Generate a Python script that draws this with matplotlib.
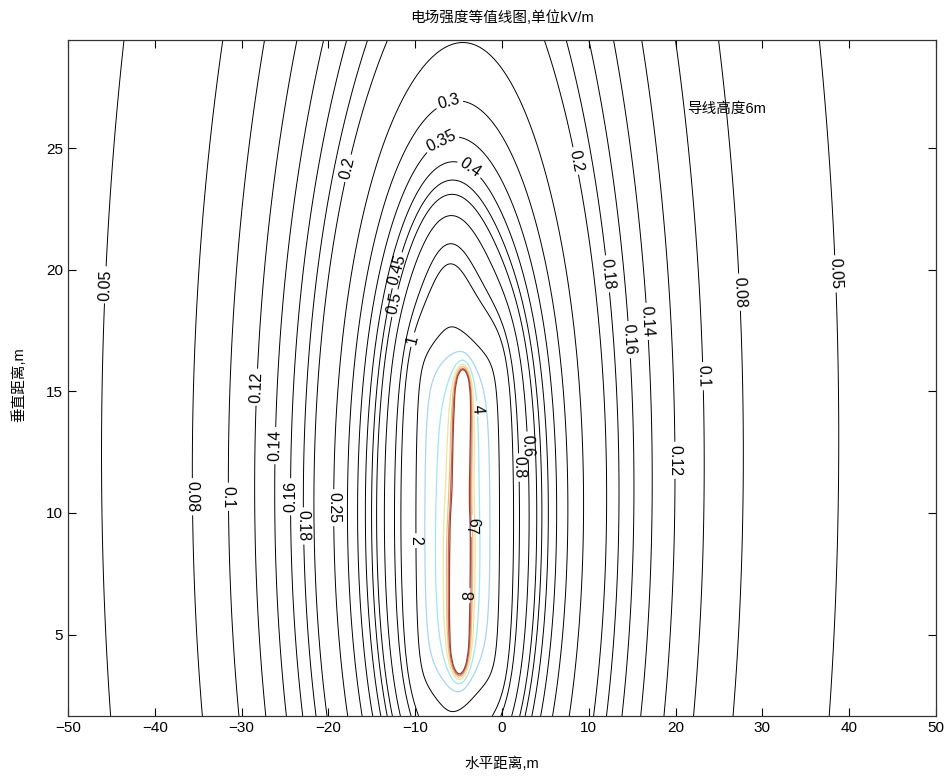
import numpy as np
import matplotlib.pyplot as plt

plt.rcParams['font.family'] = ['Liberation Sans', 'Noto Sans CJK SC']

# contour levels, kV/m
black_levels = [0.05, 0.08, 0.1, 0.12, 0.14, 0.16, 0.18, 0.2, 0.25, 0.3,
                0.35, 0.4, 0.45, 0.5, 0.6, 0.8, 1, 2]
color_levels = [3, 4, 5, 6, 7, 8]
color_lines = ['#a9d4f2', '#9fe6ee', '#eee49a', '#efbd86', '#c8705a', '#9c4434']

# charge elements of the conductor model
elem_x0 = [-2.5, -6.0, -5.0]
elem_y0 = [-15.0, 0.0, 3.8]
elem_x1 = [-2.5, -6.0, -5.0]
elem_y1 = [45.0, 20.0, 15.6]
elem_pow = [2, 2, 3]
elem_soft = [18.0, 2.5, 2.0]
elem_group = [0, 1, 2]

# space charge band around the conductor
band_x = [-9, -8, -7, -6, -5, -4, -3, -2, -1]
band_y0, band_y1 = 3.0, 16.5
for bx in band_x:
    elem_x0.append(bx)
    elem_x1.append(bx)
    elem_y0.append(band_y0)
    elem_y1.append(band_y1)
    elem_pow.append(3)
    elem_soft.append(1.5)
    elem_group.append(3)

# conductor: lower and upper part, line charge strength
wire_x0 = [-4.9, -4.8]
wire_y0 = [4.0, 9.8]
wire_x1 = [-4.8, -4.5]
wire_y1 = [9.8, 15.4]
wire_q = [5.0, 3.0]

# points the field lines pass through: level, x, y
trace_level = [0.05, 0.08, 0.1, 0.12, 0.14, 0.16, 0.18, 0.2, 0.25, 0.3, 0.4, 0.5, 0.6, 1, 2, 3,
               3, 2, 1, 0.8, 0.6, 0.4, 0.25, 0.2, 0.18, 0.16, 0.14, 0.12, 0.1, 0.08, 0.05,
               0.05, 0.05, 0.05, 0.05, 0.08, 0.1, 0.12, 0.18, 0.2, 0.2, 0.2, 0.2, 0.2, 0.12,
               0.25, 0.3, 0.4, 0.5, 0.6, 0.8, 1, 2, 3, 3,
               0.05, 0.08, 0.1, 0.12, 0.2, 2, 2, 0.2, 0.14, 0.1, 0.08]
trace_x = [-45.0, -37.2, -32.3, -29.0, -26.5, -24.8, -23.1, -21.8, -20.2, -18.3, -16.5, -15.2, -14.0, -11.8, -10.0, -7.4,
           -2.5, 0.0, 2.1, 2.8, 5.2, 7.0, 9.0, 10.1, 12.8, 14.4, 16.2, 18.4, 24.8, 29.4, 41.0,
           -46.3, -43.4, 38.0, 36.6, 27.1, 23.4, 20.2, 12.4, 8.4, -17.5, -15.2, -10.9, -0.5, -28.2,
           -4.5, -4.5, -4.5, -4.5, -4.5, -4.5, -4.5, -4.5, -4.9, -4.9,
           42.0, -37.7, -32.5, -28.0, -17.5, -6.8, -2.8, 7.4, 16.7, 24.8, 30.0]
trace_y = [10.0, 10.6, 10.7, 10.0, 11.0, 10.7, 9.4, 10.0, 10.2, 10.0, 10.0, 10.0, 10.0, 10.0, 9.0, 10.0,
           10.0, 10.0, 10.0, 12.0, 10.0, 10.0, 10.0, 10.0, 10.0, 10.0, 10.0, 10.0, 10.0, 10.0, 10.0,
           19.4, 29.4, 19.8, 29.4, 19.1, 15.6, 12.2, 19.9, 24.4, 24.1, 27.7, 29.4, 29.4, 15.1,
           28.4, 26.1, 24.3, 23.2, 22.1, 20.6, 19.7, 17.4, 15.6, 3.85,
           1.8, 1.8, 1.8, 1.8, 1.8, 1.8, 1.8, 1.8, 1.8, 1.8, 1.8]

# contour labels: level, x, y
label_level = [0.05, 0.08, 0.1, 0.12, 0.14, 0.16, 0.18, 0.25, 0.2, 0.3, 0.35, 0.4,
               0.45, 0.5, 1, 2, 0.2, 0.18, 0.14, 0.16, 0.08, 0.05, 0.1, 0.12, 0.6, 0.8]
label_x = [-46.3, -36.9, -32.3, -28.2, -26.2, -24.8, -23.1, -20.2, -17.5, -5.4, -5.6, -4.5,
           -11.5, -12.7, -9.4, -10.2, 8.4, 12.4, 17.1, 15.1, 27.1, 38.0, 23.4, 20.2, 3.2, 2.4]
label_y = [19.4, 10.6, 10.7, 15.1, 12.8, 10.7, 9.4, 10.2, 24.1, 26.1, 24.4, 23.8,
           19.9, 18.6, 17.0, 8.8, 24.4, 19.9, 17.9, 17.2, 19.1, 19.8, 15.6, 12.2, 12.7, 11.8]
inner_label_level = [4, 6, 7, 8]
inner_label_x = [-2.9, -2.9, -4.8, -3.9]
inner_label_y = [14.2, 9.6, 9.3, 6.6]


def line_field(X, Y, x0, y0, x1, y1, power, soft, n=160):
    ds = np.hypot(x1 - x0, y1 - y0) / (n - 1)
    t = np.linspace(0, 1, n)
    E = np.zeros_like(X, dtype=float)
    for xs, ys in zip(x0 + (x1 - x0) * t, y0 + (y1 - y0) * t):
        E += 1.0 / ((X - xs) ** 2 + (Y - ys) ** 2 + soft ** 2) ** (power / 2)
    return E * ds


def group_fields(X, Y):
    ng = max(elem_group) + 1
    out = [np.zeros_like(X, dtype=float) for _ in range(ng)]
    for i in range(len(elem_x0)):
        out[elem_group[i]] += line_field(X, Y, elem_x0[i], elem_y0[i], elem_x1[i],
                                         elem_y1[i], elem_pow[i], elem_soft[i])
    return out


def nnls(A, b):
    # Lawson-Hanson non-negative least squares on column-scaled A
    norm = np.linalg.norm(A, axis=0)
    norm[norm == 0] = 1
    An = A / norm
    n = An.shape[1]
    P = np.zeros(n, bool)
    sol = np.zeros(n)
    w = An.T @ (b - An @ sol)
    for _ in range(3 * n):
        if P.all() or w[~P].max() <= 1e-10:
            break
        P[np.argmax(np.where(P, -np.inf, w))] = True
        while True:
            z = np.zeros(n)
            z[P] = np.linalg.lstsq(An[:, P], b, rcond=None)[0]
            if (z[P] > 0).all():
                break
            neg = P & (z <= 0)
            alpha = np.min(sol[neg] / (sol[neg] - z[neg]))
            sol = sol + alpha * (z - sol)
            P &= sol > 1e-12
        sol = z
        w = An.T @ (b - An @ sol)
    return sol / norm


def snap_labels(ax, cs, levels, lv_list, xs, ys):
    # move each label point onto the nearest vertex of its own level
    pts = []
    to_px = ax.transData.transform
    for lv, lx, ly in zip(lv_list, xs, ys):
        segs = [s for s in cs.allsegs[levels.index(lv)] if len(s)]
        if not segs:
            continue
        verts = np.concatenate(segs)
        d = np.hypot(*(to_px(verts) - to_px([[lx, ly]])).T)
        pts.append(tuple(verts[np.argmin(d)]))
    return pts


# strengths of the broad charge from the traced lines
tx = np.array(trace_x)
ty = np.array(trace_y)
tl = np.array(trace_level)
wt = np.where(np.isclose(tx, -4.5), 2.0, 1.0)
A = np.column_stack([g * wt / tl for g in group_fields(tx, ty)])
q = nnls(A, wt)

# field on the grid
x = np.linspace(-50, 50, 401)
y = np.linspace(1.65, 29.45, 186)
X, Y = np.meshgrid(x, y)
E = sum(qi * g for qi, g in zip(q, group_fields(X, Y)))
for i in range(len(wire_q)):
    E += wire_q[i] * line_field(X, Y, wire_x0[i], wire_y0[i], wire_x1[i], wire_y1[i], 4, 0.4)

fig = plt.figure(figsize=(9.44, 7.76), dpi=100)
ax = fig.add_axes([68 / 944, 60 / 776, 868 / 944, 676 / 776])
ax.set_xlim(-50, 50)
ax.set_ylim(1.65, 29.45)

cs = ax.contour(X, Y, E, levels=black_levels, colors='k', linewidths=0.7)
cs2 = ax.contour(X, Y, E, levels=color_levels, colors=color_lines, linewidths=0.9)

fmt = lambda v: f'{v:g}'
cs.clabel(manual=snap_labels(ax, cs, black_levels, label_level, label_x, label_y),
          fmt=fmt, fontsize=11.5, inline=True, inline_spacing=3, colors='k')
cs2.clabel(manual=snap_labels(ax, cs2, color_levels, inner_label_level,
                              inner_label_x, inner_label_y),
           fmt=fmt, fontsize=11.5, inline=True, inline_spacing=3, colors='k')

ax.text(21.3, 26.6, '导线高度6m', fontsize=10.5, va='center')

ax.set_xticks(range(-50, 51, 10))
ax.set_yticks([5, 10, 15, 20, 25])
ax.tick_params(direction='in', top=True, right=True, length=6, labelsize=11)
for sp in ax.spines.values():
    sp.set_linewidth(0.9)
    sp.set_color('#333333')

fig.text(502 / 944, 1 - 18 / 776, '电场强度等值线图,单位kV/m', fontsize=10.5,
         ha='center', va='center')
fig.text(502 / 944, 1 - 764 / 776, '水平距离,m', fontsize=10.5, ha='center', va='center')
fig.text(19 / 944, 1 - 385 / 776, '垂直距离,m', fontsize=10.5, ha='center', va='center',
         rotation=90)

fig.savefig('out.png', dpi=100, facecolor='white')
